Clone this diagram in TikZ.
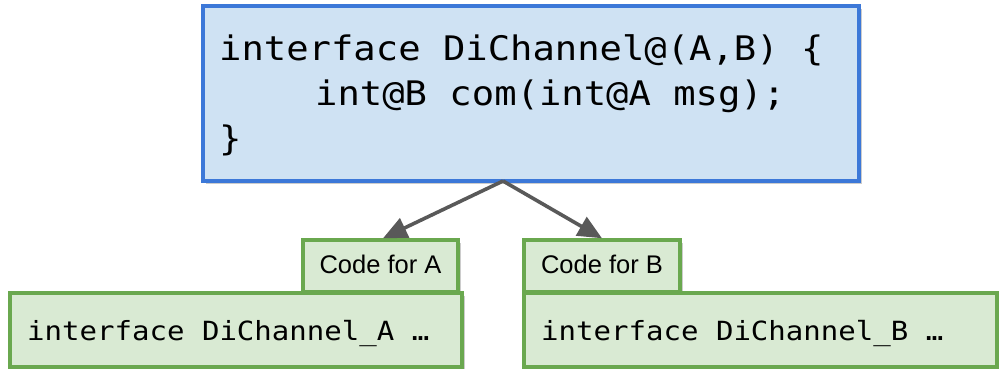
\documentclass[tikz,border=0pt]{standalone}
\usepackage{fontspec}
\setmainfont{Liberation Sans}
\newfontfamily\codefont[FakeStretch=1.1]{DejaVu Sans Mono}
\usetikzlibrary{arrows.meta,shadows}
\definecolor{ifaceborder}{HTML}{3C78D8}
\definecolor{ifacefill}{HTML}{CFE2F3}
\definecolor{genborder}{HTML}{6AA84F}
\definecolor{genfill}{HTML}{D9EAD3}
\definecolor{arrowgray}{HTML}{595959}
\tikzset{
  boxshadow/.style={general shadow={shadow xshift=2.5pt, shadow yshift=-3pt, opacity=.2, fill=black}},
  ifacebox/.style={draw=ifaceborder, fill=ifacefill, line width=4pt, inner sep=0pt, boxshadow},
  genbox/.style={draw=genborder, fill=genfill, line width=3.5pt, inner sep=0pt, boxshadow},
  bigcode/.style={inner sep=0pt, anchor=base west, font=\codefont\fontsize{33.8}{40}\selectfont},
  smallcode/.style={inner sep=0pt, anchor=base west, font=\codefont\fontsize{26.4}{32}\selectfont},
  tag/.style={inner sep=0pt, anchor=base, font=\fontsize{25.5}{30}\selectfont},
  derive/.style={draw=arrowgray, line width=3.6pt, -{Triangle[length=24pt,width=21pt]}}
}
\begin{document}
\begin{tikzpicture}[x=1pt,y=-1pt]
\useasboundingbox (0,0) rectangle (999,369);

% shared interface
\node[ifacebox, minimum width=656pt, minimum height=175pt] (iface) at (531,93.5) {};
\node[bigcode] (line1) at (219,60) {interface DiChannel@(A,B) \{};
\node[bigcode] (line2) at (315,105) {int@B com(int@A msg);};
\node[bigcode] (line3) at (219,150) {\}};

% projection labels
\node[genbox, minimum width=155pt, minimum height=52pt] (tagA) at (380.5,266) {};
\node[genbox, minimum width=156pt, minimum height=52pt] (tagB) at (602,266) {};
\node[tag] (tagAtext) at (380.5,273) {Code for A};
\node[tag] (tagBtext) at (602,273) {Code for B};

% projected interfaces
\node[genbox, minimum width=452pt, minimum height=74pt] (projA) at (236,330) {};
\node[genbox, minimum width=473pt, minimum height=74pt] (projB) at (760.5,330) {};
\node[smallcode] (projAtext) at (27,340) {interface DiChannel\_A …};
\node[smallcode] (projBtext) at (541,340) {interface DiChannel\_B …};

% derivation arrows
\coordinate (fork) at (503,181);
\draw[derive] (fork) -- (tagA.north -| 383,0);
\draw[derive] (fork) -- (tagB.north -| 602,0);
\end{tikzpicture}
\end{document}
